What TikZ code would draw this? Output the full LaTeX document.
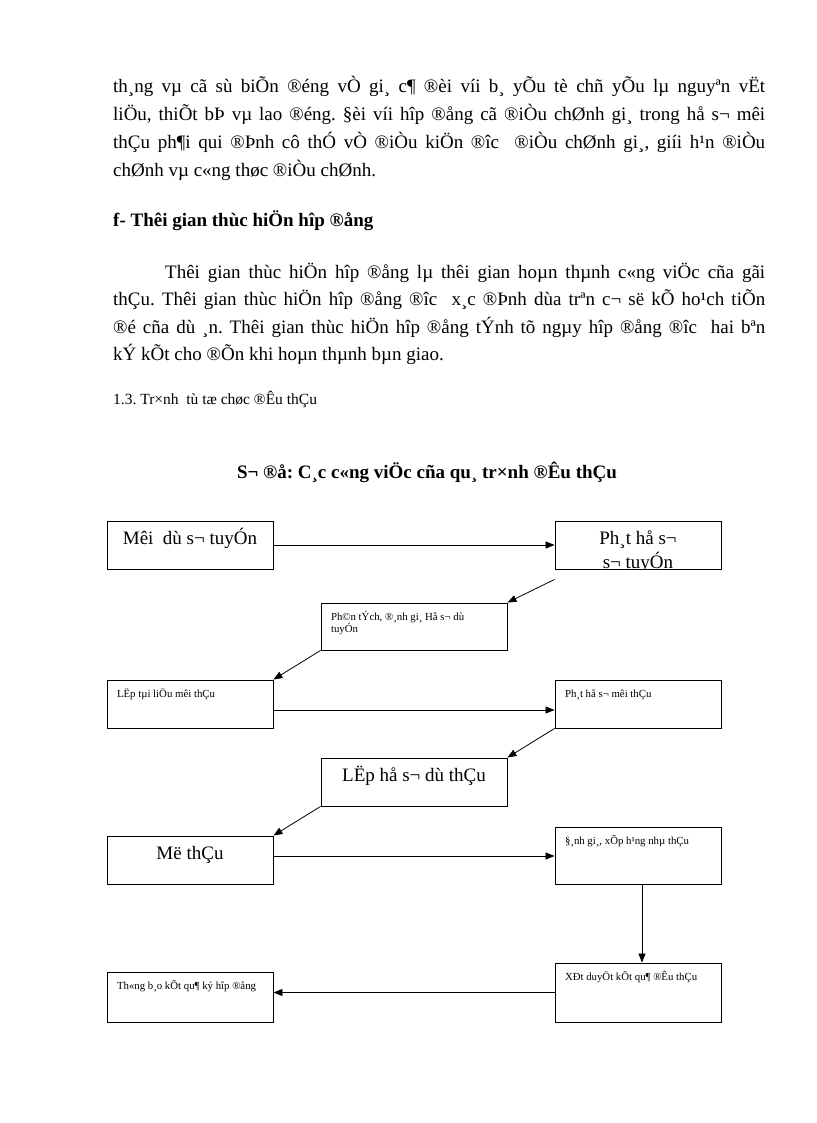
\documentclass[tikz,border=0pt]{standalone}
\usepackage{fontspec}
\setmainfont{Liberation Serif}
\usetikzlibrary{arrows.meta}
\frenchspacing

\newcommand{\bigin}[3]{\parbox[c][#2][t]{#1}{\centering\fontsize{19}{24}\selectfont\rule{0pt}{23pt}#3\par}}
\newcommand{\smallin}[3]{\parbox[c][#2][t]{#1}{\raggedright\leftskip=10pt\fontsize{10.8}{11.5}\selectfont\rule{0pt}{17pt}#3\par}}

\begin{document}
\begin{tikzpicture}[x=1pt, y=-1pt,
    every node/.style={inner sep=0pt},
    txt/.style={anchor=base west, font=\fontsize{19}{28}\selectfont},
    box/.style={draw, line width=0.9pt},
    arr/.style={line width=0.8pt, -{Triangle[length=9pt,width=7pt]}}]

\fill [white] (0,0) rectangle (816,1123);
\useasboundingbox (0,0) rectangle (816,1123);

% text above the chart ---
\node [txt] (pa1) at (113,93) {\makebox[652pt][s]{th¸ng vµ cã sù biÕn ®éng vÒ gi¸ c¶ ®èi víi b¸ yÕu tè chñ yÕu lµ nguyªn vËt}};
\node [txt] (pa2) at (113,121) {\makebox[652pt][s]{liÖu, thiÕt bÞ vµ lao ®éng. §èi víi hîp ®ång cã ®iÒu chØnh gi¸ trong hå s¬ mêi}};
\node [txt] (pa3) at (113,149) {\makebox[652pt][s]{thÇu ph¶i qui ®Þnh cô thÓ vÒ ®iÒu kiÖn ®îc~ ®iÒu chØnh gi¸, giíi h¹n ®iÒu}};
\node [txt] (pa4) at (113,177) {chØnh vµ c«ng thøc ®iÒu chØnh.};

\node [txt, font=\fontsize{19}{28}\selectfont\bfseries] (head) at (113,227) {f- Thêi gian thùc hiÖn hîp ®ång};

\node [txt] (pb1) at (165,278) {\makebox[600pt][s]{Thêi gian thùc hiÖn hîp ®ång lµ thêi gian hoµn thµnh c«ng viÖc cña gãi}};
\node [txt] (pb2) at (113,305.5) {\makebox[652pt][s]{thÇu. Thêi gian thùc hiÖn hîp ®ång ®îc~ x¸c ®Þnh dùa trªn c¬ së kÕ ho¹ch tiÕn}};
\node [txt] (pb3) at (113,333) {\makebox[652pt][s]{®é cña dù ¸n. Thêi gian thùc hiÖn hîp ®ång tÝnh tõ ngµy hîp ®ång ®îc~ hai bªn}};
\node [txt] (pb4) at (113,360.5) {kÝ kÕt cho ®Õn khi hoµn thµnh bµn giao.};

\node [txt, font=\fontsize{15.5}{18}\selectfont] (sec) at (113,404) {1.3. Tr×nh~ tù tæ chøc ®Êu thÇu};

\node [anchor=base, font=\fontsize{19}{24}\selectfont\bfseries] (title) at (427,478) {S¬ ®å: C¸c c«ng viÖc cña qu¸ tr×nh ®Êu thÇu};

% boxes ---
\node [box] (moi) at (190,545) {\bigin{166pt}{48pt}{Mêi~ dù s¬ tuyÓn}};
\node [box] (phat) at (638,545) {\bigin{166pt}{48pt}{}};
\begin{scope}
\clip (phat.south west) rectangle (phat.north east);
\node (phattxt) at (phat.center) {\bigin{166pt}{48pt}{Ph¸t hå s¬\\ s¬ tuyÓn}};
\end{scope}
\node [box] (phantich) at (414,626.5) {\smallin{186pt}{47pt}{Ph©n tÝch, ®¸nh gi¸ Hå s¬ dù\\ tuyÓn}};

\node [box] (taolieu) at (190,704) {\smallin{166pt}{48pt}{LËp tµi liÖu mêi thÇu}};
\node [box] (phatmoi) at (638,704) {\smallin{166pt}{48pt}{Ph¸t hå s¬ mêi thÇu}};
\node [box] (duthau) at (414,782) {\bigin{186pt}{48pt}{LËp hå s¬ dù thÇu}};

\node [box] (mothau) at (190,860) {\bigin{166pt}{48pt}{Më thÇu}};
\node [box] (danhgia) at (638,855.5) {\smallin{166pt}{57pt}{§¸nh gi¸, xÕp h¹ng nhµ thÇu}};

\node [box] (thongbao) at (190,997) {\smallin{166pt}{50pt}{Th«ng b¸o kÕt qu¶ ký hîp ®ång}};
\node [box] (xetduyet) at (638,992.5) {\smallin{166pt}{59pt}{XÐt duyÖt kÕt qu¶ ®Êu thÇu}};

% arrows ---
\draw [arr] (moi.east) -- (phat.west);
\draw [arr] ([yshift=-10pt]phat.south west) -- (phantich.north east);
\draw [arr] (phantich.south west) -- (taolieu.north east);
\draw [arr] ([yshift=-6pt]taolieu.east) -- ([yshift=-6pt]phatmoi.west);
\draw [arr] (phatmoi.south west) -- (duthau.north east);
\draw [arr] (duthau.south west) -- (mothau.north east);
\draw [arr] ([yshift=4pt]mothau.east) -- ([yshift=4pt]mothau.east -| danhgia.west);
\draw [arr] ([xshift=4pt]danhgia.south) -- ([xshift=4pt]xetduyet.north);
\draw [arr] (xetduyet.west) -- (xetduyet.west -| thongbao.east);

\end{tikzpicture}
\end{document}
